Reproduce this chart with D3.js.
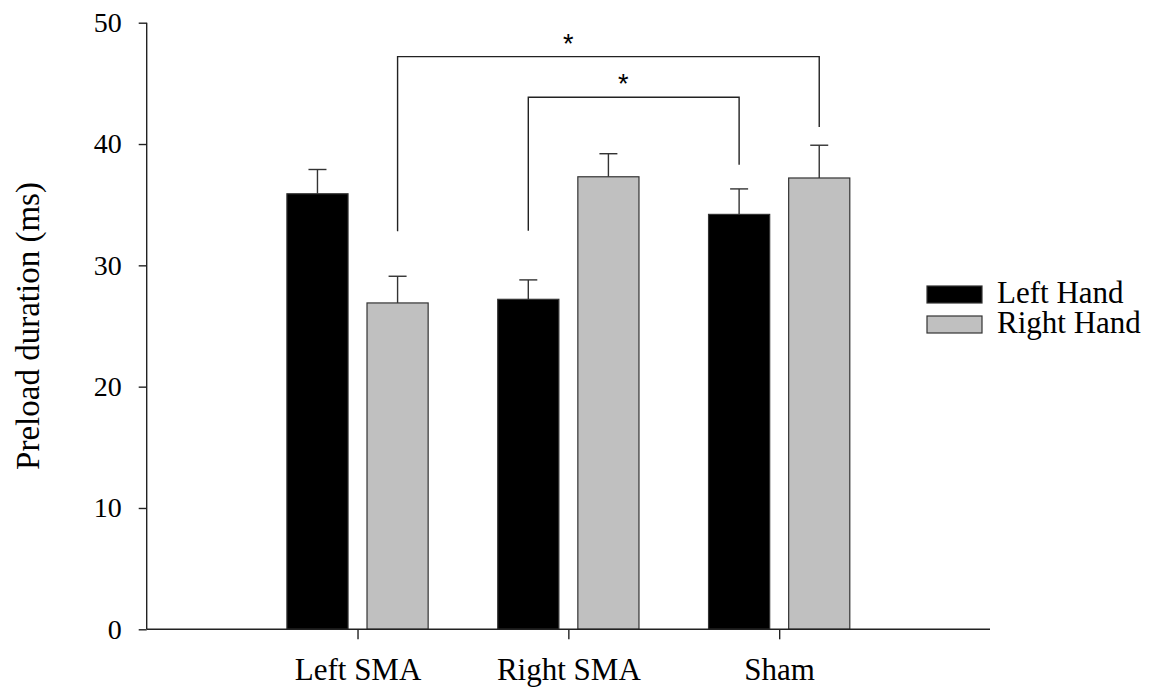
<!DOCTYPE html>
<html>
<head>
<meta charset="utf-8">
<script src="https://cdn.jsdelivr.net/npm/d3@7"></script>
<style>
  body { margin: 0; background: #fff; }
  svg text { font-family: "Liberation Serif", "Times New Roman", serif; fill: #000; }
</style>
</head>
<body>
<div id="chart"></div>
<script>
// data
var categories = ["Left SMA", "Right SMA", "Sham"]
var seriesNames = ["Left Hand", "Right Hand"]
var leftHand = [35.9, 27.2, 34.2]
var leftHandErr = [2.0, 1.6, 2.1]
var rightHand = [26.9, 37.3, 37.2]
var rightHandErr = [2.2, 1.9, 2.7]
var yTicks = [0, 10, 20, 30, 40, 50]

// significance brackets: x of both legs, top, foot of each leg, star x
var brackets = [
  {x1: 1.19, x2: 3.19, top: 47.2, foot1: 32.8, foot2: 41.4, star: 2.0},
  {x1: 1.81, x2: 2.81, top: 43.85, foot1: 32.85, foot2: 38.3, star: 2.26}
]

var width = 1150, height = 689
var margin = {left: 146.7, right: 160, top: 22.7, bottom: 59.7}

var svg = d3.select("#chart").append("svg")
  .attr("width", width)
  .attr("height", height)

var x = d3.scaleLinear().domain([0, 4]).range([margin.left, 990])
var y = d3.scaleLinear().domain([0, 50]).range([height - margin.bottom, margin.top])

var colors = ["#000000", "#c0c0c0"]
var offset = 0.19, barW = 0.29

var rows = []
categories.forEach(function(c, i) {
  rows.push({cat: i + 1, s: 0, v: leftHand[i], e: leftHandErr[i]})
  rows.push({cat: i + 1, s: 1, v: rightHand[i], e: rightHandErr[i]})
})
rows.forEach(function(d) { d.cx = d.cat + (d.s === 0 ? -offset : offset) })

// error bars (upper only)
var err = svg.append("g").attr("stroke", "#333").attr("stroke-width", 1.4)
err.selectAll(".ev").data(rows).enter().append("line")
  .attr("x1", function(d) { return x(d.cx) })
  .attr("x2", function(d) { return x(d.cx) })
  .attr("y1", function(d) { return y(d.v) })
  .attr("y2", function(d) { return y(d.v + d.e) })
err.selectAll(".eh").data(rows).enter().append("line")
  .attr("x1", function(d) { return x(d.cx) - 9 })
  .attr("x2", function(d) { return x(d.cx) + 9 })
  .attr("y1", function(d) { return y(d.v + d.e) })
  .attr("y2", function(d) { return y(d.v + d.e) })

// bars
svg.append("g").selectAll("rect").data(rows).enter().append("rect")
  .attr("x", function(d) { return x(d.cx - barW / 2) })
  .attr("width", function(d) { return x(barW) - x(0) })
  .attr("y", function(d) { return y(d.v) })
  .attr("height", function(d) { return y(0) - y(d.v) })
  .attr("fill", function(d) { return colors[d.s] })
  .attr("stroke", "#333")
  .attr("stroke-width", 1.2)

// brackets
var br = svg.append("g")
br.selectAll("path").data(brackets).enter().append("path")
  .attr("fill", "none")
  .attr("stroke", "#222")
  .attr("stroke-width", 1.4)
  .attr("d", function(d) {
    return "M" + x(d.x1) + "," + y(d.foot1) + "V" + y(d.top) +
      "H" + x(d.x2) + "V" + y(d.foot2)
  })
br.selectAll("text").data(brackets).enter().append("text")
  .attr("x", function(d) { return x(d.star) })
  .attr("y", function(d) { return y(d.top) - 4 })
  .attr("text-anchor", "middle")
  .style("font-family", "'Liberation Sans', Arial, sans-serif")
  .style("font-size", "27px")
  .text("*")

// axes
var yAxis = svg.append("g")
  .attr("transform", "translate(" + margin.left + ",0)")
  .call(d3.axisLeft(y).tickValues(yTicks).tickSize(8).tickPadding(17).tickFormat(d3.format("d")))
yAxis.selectAll("text").style("font-size", "28px").style("font-family", "'Liberation Serif', serif")
yAxis.selectAll("path, line").attr("stroke", "#222").attr("stroke-width", 1.4)
yAxis.select(".domain").attr("d", "M0," + y(0) + "V" + y(50))

var xAxis = svg.append("g")
  .attr("transform", "translate(0," + y(0) + ")")
  .call(d3.axisBottom(x).tickValues([1, 2, 3]).tickSize(10).tickPadding(19)
    .tickFormat(function(d) { return categories[d - 1] }))
xAxis.selectAll("text").style("font-size", "31px").style("font-family", "'Liberation Serif', serif")
xAxis.selectAll("path, line").attr("stroke", "#222").attr("stroke-width", 1.4)
xAxis.select(".domain").attr("d", "M" + x(0) + ",0H" + x(4))

// y title
svg.append("text")
  .attr("transform", "translate(39," + ((y(0) + y(50)) / 2) + ") rotate(-90)")
  .attr("text-anchor", "middle")
  .style("font-size", "33px")
  .text("Preload duration (ms)")

// legend
var legend = svg.append("g").attr("transform", "translate(927,286)")
var li = legend.selectAll("g").data(seriesNames).enter().append("g")
  .attr("transform", function(d, i) { return "translate(0," + (i * 30) + ")" })
li.append("rect")
  .attr("width", 55).attr("height", 17)
  .attr("fill", function(d, i) { return colors[i] })
  .attr("stroke", "#333").attr("stroke-width", 1.2)
li.append("text")
  .attr("x", 70).attr("y", 17)
  .style("font-size", "31px")
  .text(function(d) { return d })
</script>
</body>
</html>
